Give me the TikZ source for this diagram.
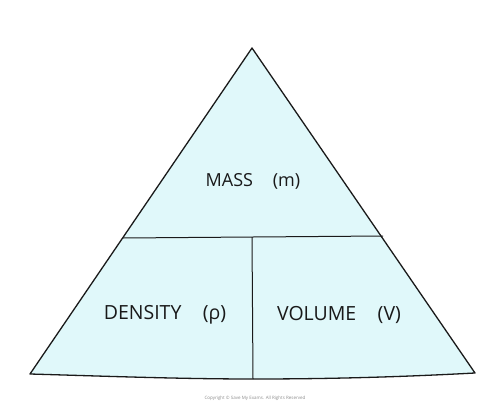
\documentclass[tikz,border=0pt]{standalone}
\usepackage{fontspec}
\setmainfont{Open Sans}
\definecolor{trifill}{HTML}{E0F8FA}
\definecolor{lineblk}{HTML}{1A1A1A}
\begin{document}
\begin{tikzpicture}[x=1pt,y=-1pt,
  edge/.style={draw=lineblk,line width=1.3pt,line join=round},
  lbl/.style={font=\fontsize{19.5}{21}\selectfont,text=black!90,inner sep=0pt}]
\useasboundingbox (0,0) rectangle (500,401);
\coordinate (apex) at (252,48);
\coordinate (bl) at (30,374);
\coordinate (br) at (475,373);
\coordinate (bm) at (253,379);
\coordinate (hl) at (123,238);
\coordinate (hr) at (383,236);
\coordinate (vt) at (252,237);
\fill[trifill] (apex) -- (br) .. controls (400,377) and (330,379) .. (bm) .. controls (180,379) and (100,376) .. (bl) -- cycle;
\draw[edge] (apex) -- (br) .. controls (400,377) and (330,379) .. (bm) .. controls (180,379) and (100,376) .. (bl) -- cycle;
\draw[edge,line width=1pt] (hl) -- (hr);
\draw[edge,line width=1pt] (vt) -- (bm);
\node[lbl,font=\fontsize{18}{20}\selectfont] (mass) at (253,181) {MASS\hspace{1.1em}(m)};
\node[lbl] (dens) at (165,315) {DENSITY\hspace{1.1em}(ρ)};
\node[lbl] (vol) at (339,315) {VOLUME\hspace{1.1em}(V)};
\node[font=\fontsize{4.5}{5}\selectfont,text=black!45,inner sep=0pt] (copy) at (255,398) {Copyright © Save My Exams. All Rights Reserved};
\end{tikzpicture}
\end{document}
